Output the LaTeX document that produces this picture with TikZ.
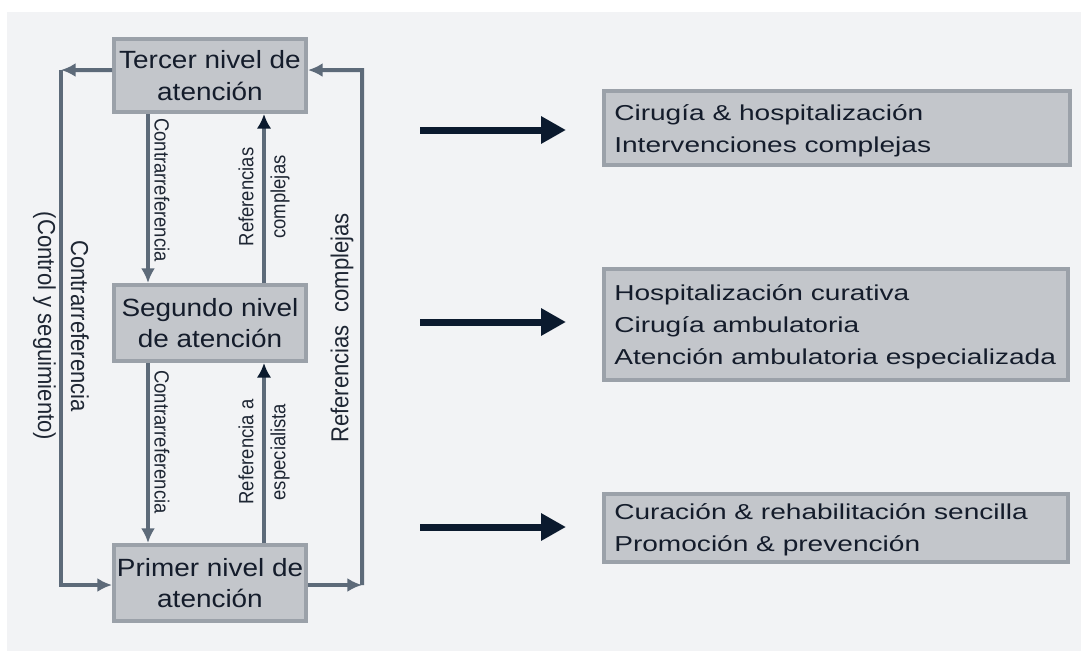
\documentclass[tikz,border=0pt]{standalone}
\usepackage{fontspec}
\setmainfont{Liberation Sans}
\newfontfamily\boxf{Liberation Sans}[FakeStretch=1.12]
\newfontfamily\rightf{Liberation Sans}[FakeStretch=1.3]
\newfontfamily\vertf{Liberation Sans}[FakeStretch=0.9]
\usetikzlibrary{arrows.meta}
\definecolor{bgc}{HTML}{F2F3F5}
\definecolor{boxfill}{HTML}{C3C6CB}
\definecolor{boxline}{HTML}{9BA1A9}
\definecolor{gline}{HTML}{5D6A79}
\definecolor{navy}{HTML}{0B1A2E}
\definecolor{txt}{HTML}{141C2B}
\definecolor{vtxt}{HTML}{1E2633}
\begin{document}
\begin{tikzpicture}[x=0.75pt,y=-0.75pt,
  levelbox/.style={draw=boxline, fill=boxfill, line width=3pt, minimum width=144pt,
     align=center, text=txt, inner sep=0pt,
     font=\boxf\fontsize{18.7pt}{23.6pt}\selectfont},
  infobox/.style={draw=boxline, fill=boxfill, line width=3pt, inner sep=0pt},
  infotext/.style={anchor=west, align=left, inner xsep=9pt, inner ysep=0pt, text=txt,
     font=\rightf\fontsize{16.2pt}{24pt}\selectfont},
  vsmall/.style={align=center, inner sep=0pt, text=vtxt,
     font=\vertf\fontsize{15.4pt}{24pt}\selectfont},
  vbig/.style={align=center, inner sep=0pt, text=vtxt,
     font=\vertf\fontsize{18.4pt}{24.75pt}\selectfont},
  gconn/.style={draw=gline, line width=3pt},
  gtip/.style={-{Latex[length=11pt,width=10.5pt]}},
  ntip/.style={-{Latex[color=navy,length=11pt,width=11pt]}},
  bigarrow/.style={draw=navy, line width=5.25pt, -{Triangle[length=18.75pt,width=19.5pt]}}
]
\useasboundingbox (0,0) rectangle (1081,651);
\fill[white] (0,0) rectangle (1081,651);
\fill[bgc] (7,12) rectangle (1081,651);

% level boxes
\node[levelbox, minimum height=54.75pt] (T) at (210,75.5) {Tercer nivel de\\atención};
\node[levelbox, minimum height=57pt] (S) at (210,323) {Segundo nivel\\de atención};
\node[levelbox, minimum height=57pt] (P) at (210,583) {Primer nivel de\\atención};

% corner coordinates
\coordinate (lt) at (61,70);
\coordinate (lb) at (61,585);
\coordinate (rt) at (362,70);
\coordinate (rb) at (362,585);

% outer loops
\draw[gconn, gtip] ([yshift=4.1pt]T.west) -- (lt);
\draw[gconn, gtip] (lt) -- (lb) -- ([yshift=-1.5pt]P.west);
\draw[gconn, gtip] ([yshift=-1.5pt]P.east) -- (rb);
\draw[gconn, gtip] (rb) -- (rt) -- ([yshift=4.1pt]T.east);

% inner arrows
\draw[gconn, gtip] ([xshift=-46.5pt]T.south) -- ([xshift=-46.5pt]S.north);
\draw[gconn, ntip] ([xshift=40.5pt]S.north) -- ([xshift=40.5pt]T.south);
\draw[gconn, gtip] ([xshift=-46.5pt]S.south) -- ([xshift=-46.5pt]P.north);
\draw[gconn, ntip] ([xshift=40.5pt]P.north) -- ([xshift=40.5pt]S.south);

% rotated labels
\node[vsmall, rotate=-90] (l1) at (162,190) {Contrarreferencia};
\node[vsmall, rotate=-90] (l2) at (162,442) {Contrarreferencia};
\node[vsmall, rotate=90] (l3) at (264,197) {Referencias\\complejas};
\node[vsmall, rotate=90] (l4) at (264,452) {Referencia a\\especialista};
\node[vbig, rotate=-90] (l5) at (61,326) {Contrarreferencia\\(Control y seguimiento)};
\node[vbig, rotate=90] (l6) at (342,328) {Referencias~ complejas};

% right boxes
\node[infobox, minimum width=349.5pt, minimum height=55.5pt,
  label={[infotext, yshift=-2pt]west:Cirugía \& hospitalización\\Intervenciones complejas}] (R1) at (837,128) {};
\node[infobox, minimum width=348pt, minimum height=83.25pt,
  label={[infotext, yshift=-1.5pt]west:Hospitalización curativa\\Cirugía ambulatoria\\Atención ambulatoria especializada}] (R2) at (836,324.5) {};
\node[infobox, minimum width=348pt, minimum height=51pt,
  label={[infotext, yshift=-1.5pt]west:Curación \& rehabilitación sencilla\\Promoción \& prevención}] (R3) at (836,528) {};

% big arrows
\coordinate (a1s) at (420,130); \coordinate (a1e) at (566,130);
\coordinate (a2s) at (420,322); \coordinate (a2e) at (566,322);
\coordinate (a3s) at (420,527); \coordinate (a3e) at (566,527);
\draw[bigarrow] (a1s) -- (a1e);
\draw[bigarrow] (a2s) -- (a2e);
\draw[bigarrow] (a3s) -- (a3e);
\end{tikzpicture}
\end{document}
